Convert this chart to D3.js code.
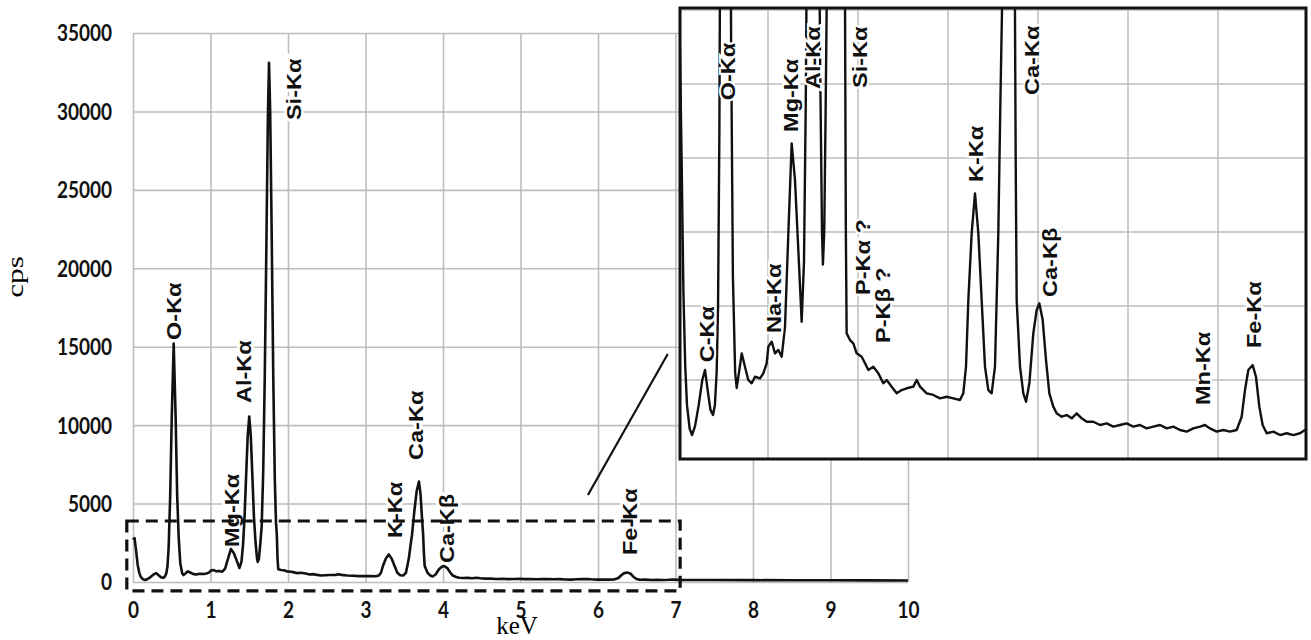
<!DOCTYPE html>
<html>
<head>
<meta charset="utf-8">
<script src="https://cdn.jsdelivr.net/npm/d3@7"></script>
<style>
  body { margin: 0; background: #fff; }
  svg { display: block; }
</style>
</head>
<body>
<script>
// EDS spectrum (keV vs cps)
var energyKeV = [
  0.00, 0.02, 0.04, 0.06, 0.08, 0.10, 0.13, 0.156, 0.19, 0.23, 0.27, 0.30, 0.33, 0.36, 0.389, 0.41, 0.43, 0.445,
  0.46, 0.48, 0.50, 0.525, 0.55, 0.57, 0.59, 0.61, 0.635, 0.652, 0.68, 0.708, 0.744, 0.781, 0.819, 0.856, 0.911,
  0.948, 0.985, 1.004, 1.041, 1.078, 1.115, 1.152, 1.189, 1.226, 1.263, 1.30, 1.337, 1.374, 1.40, 1.42, 1.44,
  1.46, 1.48, 1.50, 1.52, 1.54, 1.56, 1.58, 1.60, 1.61, 1.625, 1.64, 1.66, 1.68, 1.70, 1.72, 1.74, 1.755, 1.77,
  1.79, 1.81, 1.83, 1.845, 1.856, 1.865, 1.874, 1.911, 1.948, 1.985, 2.041, 2.078, 2.115, 2.17, 2.226, 2.281,
  2.319, 2.374, 2.43, 2.485, 2.541, 2.615, 2.652, 2.689, 2.763, 2.837, 2.911, 2.985, 3.059, 3.133, 3.17, 3.20,
  3.226, 3.263, 3.30, 3.337, 3.374, 3.411, 3.448, 3.485, 3.522, 3.559, 3.58, 3.60, 3.63, 3.66, 3.69, 3.71, 3.73,
  3.744, 3.752, 3.763, 3.80, 3.837, 3.867, 3.904, 3.948, 3.985, 4.015, 4.052, 4.089, 4.126, 4.17, 4.207, 4.263,
  4.319, 4.374, 4.43, 4.485, 4.541, 4.615, 4.689, 4.763, 4.837, 4.911, 4.985, 5.059, 5.133, 5.207, 5.281, 5.356,
  5.43, 5.504, 5.578, 5.652, 5.726, 5.80, 5.856, 5.911, 5.985, 6.059, 6.133, 6.207, 6.263, 6.30, 6.337, 6.385,
  6.422, 6.459, 6.496, 6.541, 6.615, 6.689, 6.763, 6.837, 6.911, 6.967, 7.05, 7.5, 8.0, 8.5, 9.0, 9.5, 10.0
];
var countsCps = [
  2700, 2800, 2000, 1100, 600, 330, 170, 128, 190, 330, 500, 568, 430, 300, 264, 330, 560, 1000,
  2200, 5500, 10500, 15200, 10500, 5500, 2800, 1200, 550, 446, 560, 680, 590, 500, 478, 522, 511,
  545, 613, 725, 759, 680, 703, 657, 860, 1491, 2099, 1850, 1378, 894, 1300, 2400, 4200,
  6800, 9300, 10550, 9300, 6800, 4200, 2600, 1500, 1280, 1500, 2300, 3500, 7000, 13000, 21000, 29500, 33100, 30000,
  22000, 13000, 6500, 3800, 3000, 1500, 815, 770, 748, 680, 657, 613, 568, 590, 545, 478,
  500, 455, 410, 432, 444, 455, 500, 455, 410, 399, 376, 387, 376, 365, 410, 590,
  1040, 1491, 1761, 1491, 1040, 590, 432, 410, 590, 1491, 2300, 3000, 4500, 5800, 6400, 5600, 4000,
  3000, 2000, 1040, 590, 410, 353, 478, 815, 973, 1018, 905, 635, 410, 320, 275, 252,
  263, 241, 275, 241, 218, 218, 196, 207, 185, 196, 207, 185, 196, 173, 185, 196,
  173, 185, 162, 151, 173, 185, 196, 173, 151, 162, 151, 162, 252, 432, 568, 601,
  522, 320, 196, 140, 151, 128, 140, 128, 140, 162, 135, 125, 118, 112, 108, 104, 100
];

var xTicks = [0, 1, 2, 3, 4, 5, 6, 7, 8, 9, 10];
var yTicks = [0, 5000, 10000, 15000, 20000, 25000, 30000, 35000];
var insetXTicks = [1, 2, 3, 4, 5, 6];
var insetYTicks = [500, 1000, 1500, 2000, 2500, 3000];

// peak labels: name, energy (keV) and cps where the label starts
var mainLabelNames = ["O-Kα", "Mg-Kα", "Al-Kα", "Si-Kα", "K-Kα", "Ca-Kα", "Ca-Kβ", "Fe-Kα"];
var mainLabelKeV   = [0.516, 1.265, 1.43, 2.065, 3.37, 3.64, 4.05, 6.40];
var mainLabelCps   = [15430, 2230, 11410, 29450, 2800, 7780, 1210, 1720];

var insetLabelNames = ["C-Kα", "O-Kα", "Na-Kα", "Mg-Kα", "Al-Kα", "Si-Kα", "P-Kα ?", "P-Kβ ?", "K-Kα", "Ca-Kα", "Ca-Kβ", "Mn-Kα", "Fe-Kα"];
var insetLabelKeV   = [0.32, 0.545, 1.056, 1.245, 1.49, 2.02, 2.045, 2.267, 3.30, 3.93, 4.13, 5.83, 6.39];
var insetLabelCps   = [620, 2390, 818, 2176, 2466, 2473, 1074, 750, 1838, 2426, 1061, 331, 716];

// zoomed region marked on the main chart and the pointer line
var zoomBoxKeV = [-0.08, 7.06];
var zoomBoxCps = [-570, 3890];
var pointerKeV = [5.87, 6.90];
var pointerCps = [5550, 14540];

var w = 1311, h = 640;
var spectrum = energyKeV.map(function(e, i) { return {e: e, c: countsCps[i]}; });

var svg = d3.select("body").append("svg")
    .attr("width", w)
    .attr("height", h);

var gridColor = "#bdbdbd";
var labelFont = "'Liberation Sans', Arial, sans-serif";
var tickFont = "Lato, 'Open Sans', sans-serif";

// main chart scales
var x = d3.scaleLinear().domain([0, 10]).range([133, 908]);
var y = d3.scaleLinear().domain([0, 35000]).range([582, 33]);

// y axis + horizontal grid
var yAxis = svg.append("g")
    .attr("transform", "translate(" + x(0) + ",0)")
    .call(d3.axisLeft(y).tickValues(yTicks).tickSize(-(x(10) - x(0))).tickFormat(d3.format("d")));
yAxis.select(".domain").remove();
yAxis.selectAll("line").attr("stroke", gridColor).attr("stroke-width", 1.6);
yAxis.selectAll("text")
    .attr("x", null).attr("dy", "0.35em")
    .attr("transform", "translate(-21,0) scale(1,1.2)")
    .attr("font-family", tickFont).attr("font-weight", "bold").attr("font-size", 19)
    .attr("fill", "#111").attr("text-anchor", "end");

// x axis + vertical grid
var xAxis = svg.append("g")
    .attr("transform", "translate(0," + y(0) + ")")
    .call(d3.axisBottom(x).tickValues(xTicks).tickSize(-(y(0) - y(35000))));
xAxis.select(".domain").remove();
xAxis.selectAll("line").attr("stroke", gridColor).attr("stroke-width", 1.6);
xAxis.selectAll("text")
    .attr("y", null).attr("dy", "0.35em")
    .attr("transform", "translate(0,28) scale(1,1.2)")
    .attr("font-family", tickFont).attr("font-weight", "bold").attr("font-size", 19)
    .attr("fill", "#111");

// axis titles
svg.append("text")
    .attr("transform", "translate(517,634)")
    .attr("text-anchor", "middle")
    .attr("font-family", "'Liberation Serif', 'Times New Roman', serif")
    .attr("font-size", 25)
    .text("keV");
svg.append("text")
    .attr("transform", "translate(16,277) rotate(-90) scale(1.3,1)")
    .attr("text-anchor", "middle")
    .attr("dy", "0.3em")
    .attr("font-family", "'Liberation Serif', 'Times New Roman', serif")
    .attr("font-size", 24)
    .text("cps");

function peakLabel(g, px, py, txt, halo) {
    g.append("text")
        .attr("transform", "translate(" + px + "," + py + ") rotate(-90) scale(1.12,1)")
        .attr("dy", "0.36em")
        .attr("font-family", labelFont)
        .attr("font-weight", "bold")
        .attr("font-size", 21)
        .attr("fill", "#111")
        .attr("stroke", "#fff")
        .attr("stroke-width", halo)
        .attr("paint-order", "stroke")
        .text(txt);
}

// main labels
var mainLab = svg.append("g");
mainLabelNames.forEach(function(n, i) {
    peakLabel(mainLab, x(mainLabelKeV[i]), y(mainLabelCps[i]), n, 6);
});

// main spectrum
var line = d3.line()
    .x(function(d) { return x(d.e); })
    .y(function(d) { return y(d.c); });

svg.append("path")
    .datum(spectrum)
    .attr("d", line)
    .attr("fill", "none")
    .attr("stroke", "#111")
    .attr("stroke-width", 2.6)
    .attr("stroke-linejoin", "round");

// dashed zoom box
svg.append("rect")
    .attr("x", x(zoomBoxKeV[0]))
    .attr("y", y(zoomBoxCps[1]))
    .attr("width", x(zoomBoxKeV[1]) - x(zoomBoxKeV[0]))
    .attr("height", y(zoomBoxCps[0]) - y(zoomBoxCps[1]))
    .attr("fill", "none")
    .attr("stroke", "#111")
    .attr("stroke-width", 3.2)
    .attr("stroke-dasharray", "12,7");

svg.append("line")
    .attr("x1", x(pointerKeV[0])).attr("y1", y(pointerCps[0]))
    .attr("x2", x(pointerKeV[1])).attr("y2", y(pointerCps[1]))
    .attr("stroke", "#111")
    .attr("stroke-width", 2.2);

// BEGIN inset
var ib = {x: 680, y: 8, w: 626, h: 451};
var xi = d3.scaleLinear().domain([0, 7]).range([678, 1308]);
var yi = d3.scaleLinear().domain([0, 3000]).range([454, 10]);

svg.append("defs").append("clipPath").attr("id", "insetClip")
  .append("rect").attr("x", ib.x).attr("y", ib.y).attr("width", ib.w).attr("height", ib.h);

svg.append("rect")
    .attr("x", ib.x).attr("y", ib.y).attr("width", ib.w).attr("height", ib.h)
    .attr("fill", "#fff");

var inset = svg.append("g").attr("clip-path", "url(#insetClip)");

inset.append("g").selectAll("line")
    .data(insetXTicks).enter().append("line")
    .attr("x1", function(d) { return xi(d); }).attr("x2", function(d) { return xi(d); })
    .attr("y1", ib.y).attr("y2", ib.y + ib.h)
    .attr("stroke", gridColor).attr("stroke-width", 1.5);
inset.append("g").selectAll("line")
    .data(insetYTicks).enter().append("line")
    .attr("x1", ib.x).attr("x2", ib.x + ib.w)
    .attr("y1", function(d) { return yi(d); }).attr("y2", function(d) { return yi(d); })
    .attr("stroke", gridColor).attr("stroke-width", 1.5);

var lineIn = d3.line()
    .x(function(d) { return xi(d.e); })
    .y(function(d) { return yi(d.c); });

inset.append("path")
    .datum(spectrum.filter(function(d) { return d.e <= 7.05; }))
    .attr("d", lineIn)
    .attr("fill", "none")
    .attr("stroke", "#111")
    .attr("stroke-width", 2.4)
    .attr("stroke-linejoin", "round");

insetLabelNames.forEach(function(n, i) {
    peakLabel(inset, xi(insetLabelKeV[i]), yi(insetLabelCps[i]), n, 4);
});

svg.append("rect")
    .attr("x", ib.x).attr("y", ib.y).attr("width", ib.w).attr("height", ib.h)
    .attr("fill", "none")
    .attr("stroke", "#111")
    .attr("stroke-width", 3);
// END inset
</script>
</body>
</html>
